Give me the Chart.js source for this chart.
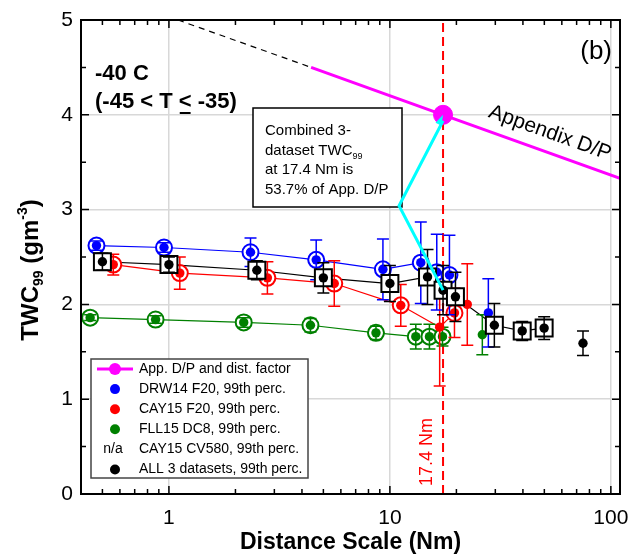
<!DOCTYPE html>
<html>
<head>
<meta charset="utf-8">
<script src="https://cdn.jsdelivr.net/npm/chart.js@4"></script>
<style>
  html, body { margin: 0; padding: 0; background: #fff; }
</style>
</head>
<body>
<canvas id="twc" width="634" height="558"></canvas>
<script>
// DRW14 F20 (blue): circled points joined by a line, then loose points
const drwX = [0.47, 0.95, 2.34, 4.64, 9.3, 13.8, 16.3, 18.6];
const drwY = [2.62, 2.60, 2.55, 2.47, 2.37, 2.44, 2.34, 2.31];
const drwErr = [0.05, 0.05, 0.15, 0.21, 0.32, 0.43, 0.40, 0.42];
const drwTailX = [27.9];
const drwTailY = [1.91];
const drwTailErr = [0.36];

// CAY15 F20 (red)
const cayX = [0.56, 1.12, 2.79, 5.6, 11.2, 19.6];
const cayY = [2.42, 2.33, 2.28, 2.22, 1.99, 1.91];
const cayErr = [0.11, 0.17, 0.17, 0.24, 0.22, 0.26];
const cayTailX = [16.8, 22.4];
const cayTailY = [1.76, 2.0];
const cayTailErr = [0.62, 0.43];

// FLL15 DC8 (green)
const fllX = [0.44, 0.87, 2.18, 4.37, 8.65, 13.1, 15.1, 17.3];
const fllY = [1.86, 1.84, 1.81, 1.78, 1.70, 1.66, 1.66, 1.66];
const fllErr = [0.03, 0.04, 0.05, 0.07, 0.07, 0.13, 0.13, 0.10];
const fllTailX = [26.2];
const fllTailY = [1.68];
const fllTailErr = [0.21];

// all three datasets combined (black squares)
const allX = [0.5, 1, 2.5, 5, 10, 14.8, 17.4, 19.8, 29.7, 39.7, 49.9];
const allY = [2.45, 2.42, 2.36, 2.28, 2.22, 2.29, 2.15, 2.08, 1.78, 1.72, 1.75];
const allErr = [0.09, 0.08, 0.10, 0.16, 0.19, 0.29, 0.26, 0.26, 0.23, 0.10, 0.12];
const allTailX = [74.8];
const allTailY = [1.59];
const allTailErr = [0.13];

// Appendix D/P envelope with distance factor
const appDashX = [1.1, 4.4];
const appDashY = [5.0, 4.5];
const appX = [4.4, 17.4, 110];
const appY = [4.5, 4.0, 3.33];
const appDotX = [17.4];
const appDotY = [4.0];

// 17.4 Nm marker and the callout
const refX = 17.4;
const calloutX = [17.4, 11.0, 17.4];
const calloutY = [2.15, 3.04, 4.0];
const noteLines = ['Combined 3-', 'dataset TWC', 'at 17.4 Nm is', '53.7% of App. D/P'];

const xTicks = [1, 10, 100];
const xMinor = [0.5, 0.6, 0.7, 0.8, 0.9, 2, 3, 4, 5, 6, 7, 8, 9, 20, 30, 40, 50, 60, 70, 80, 90];
const yTicks = [0, 1, 2, 3, 4, 5];
const yMinor = [0.5, 1.5, 2.5, 3.5, 4.5];

const FONT = '"Liberation Sans", Arial, sans-serif';
const BLUE = '#0000ff', RED = '#ff0000', GREEN = '#008000', BLACK = '#000000';
const MAGENTA = '#ff00ff', CYAN = '#00ffff';

const pts = (xs, ys) => xs.map((v, i) => ({ x: v, y: ys[i] }));

function lineSet(xs, ys, color, order, width) {
  return { data: pts(xs, ys), showLine: true, borderColor: color, borderWidth: width || 1.2,
           pointRadius: 0, order: order };
}
function ringSet(xs, ys, color, order, style) {
  return { data: pts(xs, ys), showLine: false, borderColor: color, backgroundColor: '#fff',
           pointStyle: style || 'circle', pointRadius: style === 'rect' ? 12 : 8,
           pointBorderWidth: 2, order: order };
}
function dotSet(xs, ys, errs, color, order) {
  return { data: pts(xs, ys), showLine: false, borderColor: color, backgroundColor: color,
           pointRadius: 4.7, pointBorderWidth: 0, errors: errs, order: order };
}

// vertical error bars, painted just before the dataset that owns them
const errorBars = {
  id: 'errorBars',
  beforeDatasetDraw(chart, args) {
    const ds = chart.data.datasets[args.index];
    if (!ds.errors) return;
    const { ctx, scales: { x, y } } = chart;
    ctx.save();
    ctx.strokeStyle = ds.borderColor;
    ctx.lineWidth = 1.5;
    ctx.beginPath();
    ds.data.forEach((p, i) => {
      const px = x.getPixelForValue(p.x);
      const t = y.getPixelForValue(p.y + ds.errors[i]);
      const b = y.getPixelForValue(p.y - ds.errors[i]);
      ctx.moveTo(px, t); ctx.lineTo(px, b);
      ctx.moveTo(px - 6, t); ctx.lineTo(px + 6, t);
      ctx.moveTo(px - 6, b); ctx.lineTo(px + 6, b);
    });
    ctx.stroke();
    ctx.restore();
  }
};

// callout box under the data, cyan pointer over it
const callout = {
  id: 'callout',
  beforeDatasetsDraw(chart) {
    const { ctx } = chart;
    const l = 253, t = 108, w = 149, h = 99;
    ctx.save();
    ctx.fillStyle = '#fff';
    ctx.fillRect(l, t, w, h);
    ctx.strokeStyle = '#000';
    ctx.lineWidth = 1.5;
    ctx.strokeRect(l, t, w, h);
    ctx.fillStyle = '#000';
    ctx.textBaseline = 'alphabetic';
    noteLines.forEach((s, i) => {
      const by = t + 27 + i * 19.5;
      ctx.font = '15px ' + FONT;
      ctx.fillText(s, l + 12, by);
      if (i === 1) {
        const wdt = ctx.measureText(s).width;
        ctx.font = '9px ' + FONT;
        ctx.fillText('99', l + 12 + wdt, by + 4);
      }
    });
    ctx.restore();
  },
  afterDatasetsDraw(chart) {
    const { ctx, scales: { x, y } } = chart;
    const px = calloutX.map(v => x.getPixelForValue(v));
    const py = calloutY.map(v => y.getPixelForValue(v));
    ctx.save();
    ctx.strokeStyle = CYAN;
    ctx.fillStyle = CYAN;
    ctx.lineWidth = 3;
    ctx.beginPath();
    ctx.moveTo(px[0], py[0]);
    ctx.lineTo(px[1], py[1]);
    ctx.lineTo(px[2], py[2] + 6);
    ctx.stroke();
    // arrow head into the App. D/P point
    const ang = Math.atan2(py[2] - py[1], px[2] - px[1]);
    ctx.beginPath();
    ctx.moveTo(px[2], py[2]);
    ctx.lineTo(px[2] - 11 * Math.cos(ang - 0.3), py[2] - 11 * Math.sin(ang - 0.3));
    ctx.lineTo(px[2] - 11 * Math.cos(ang + 0.3), py[2] - 11 * Math.sin(ang + 0.3));
    ctx.closePath();
    ctx.fill();
    ctx.restore();
  }
};

// inward ticks on all four sides, box frame, texts and legend
const decor = {
  id: 'decor',
  afterDraw(chart) {
    const { ctx, chartArea: a, scales: { x, y } } = chart;
    ctx.save();

    ctx.strokeStyle = '#000';
    ctx.lineWidth = 1.5;
    ctx.beginPath();
    xTicks.concat(xMinor).forEach(v => {
      const px = x.getPixelForValue(v);
      if (px <= a.left || px >= a.right) return;
      const len = xTicks.includes(v) ? 8 : 5;
      ctx.moveTo(px, a.bottom); ctx.lineTo(px, a.bottom - len);
      ctx.moveTo(px, a.top); ctx.lineTo(px, a.top + len);
    });
    yTicks.concat(yMinor).forEach(v => {
      const py = y.getPixelForValue(v);
      const len = yTicks.includes(v) ? 8 : 5;
      ctx.moveTo(a.left, py); ctx.lineTo(a.left + len, py);
      ctx.moveTo(a.right, py); ctx.lineTo(a.right - len, py);
    });
    ctx.stroke();
    ctx.lineWidth = 2;
    ctx.strokeRect(a.left, a.top, a.right - a.left, a.bottom - a.top);

    ctx.fillStyle = '#000';
    ctx.textBaseline = 'alphabetic';

    // panel tag and temperature range
    ctx.font = '26px ' + FONT;
    ctx.textAlign = 'right';
    ctx.fillText('(b)', a.right - 8, 59);
    ctx.textAlign = 'left';
    ctx.font = 'bold 22px ' + FONT;
    ctx.fillText('-40 C', 95, 80);
    const head = '(-45 < T ';
    ctx.fillText(head, 95, 108);
    let cx = 95 + ctx.measureText(head).width;
    ctx.fillText('<', cx, 108);
    const lw = ctx.measureText('<').width;
    ctx.fillRect(cx + 1, 112, lw - 2, 2);
    ctx.fillText(' -35)', cx + lw, 108);

    // envelope label along the magenta line
    const p0x = x.getPixelForValue(appX[1]), p0y = y.getPixelForValue(appY[1]);
    const p1x = x.getPixelForValue(appX[2]), p1y = y.getPixelForValue(appY[2]);
    const ang = Math.atan2(p1y - p0y, p1x - p0x);
    ctx.save();
    ctx.translate(550, 133);
    ctx.rotate(ang);
    ctx.font = '21px ' + FONT;
    ctx.textAlign = 'center';
    ctx.textBaseline = 'middle';
    ctx.fillText('Appendix D/P', 0, 0);
    ctx.restore();

    // 17.4 Nm label beside the dashed line
    ctx.save();
    ctx.translate(x.getPixelForValue(refX) - 16, 452);
    ctx.rotate(-Math.PI / 2);
    ctx.fillStyle = RED;
    ctx.font = '18px ' + FONT;
    ctx.textAlign = 'center';
    ctx.textBaseline = 'middle';
    ctx.fillText('17.4 Nm', 0, 0);
    ctx.restore();

    // axis titles
    ctx.font = 'bold 23px ' + FONT;
    ctx.textAlign = 'center';
    ctx.fillText('Distance Scale (Nm)', (a.left + a.right) / 2, 549);

    ctx.save();
    ctx.translate(38, 270);
    ctx.rotate(-Math.PI / 2);
    const parts = [
      ['TWC', 'bold 24px ', 0], ['99', 'bold 14px ', 5], [' (gm', 'bold 24px ', 0],
      ['-3', 'bold 14px ', -11], [')', 'bold 24px ', 0]
    ];
    let total = 0;
    parts.forEach(p => { ctx.font = p[1] + FONT; total += ctx.measureText(p[0]).width; });
    let tx = -total / 2;
    ctx.textAlign = 'left';
    parts.forEach(p => {
      ctx.font = p[1] + FONT;
      ctx.fillText(p[0], tx, p[2]);
      tx += ctx.measureText(p[0]).width;
    });
    ctx.restore();

    // legend
    const L = 91, T = 359, W = 217, H = 119;
    ctx.fillStyle = '#fff';
    ctx.fillRect(L, T, W, H);
    ctx.strokeStyle = '#444';
    ctx.lineWidth = 1.5;
    ctx.strokeRect(L, T, W, H);
    const rows = [
      ['App. D/P and dist. factor', MAGENTA, 'line'],
      ['DRW14 F20, 99th perc.', BLUE, 'dot'],
      ['CAY15 F20, 99th perc.', RED, 'dot'],
      ['FLL15 DC8, 99th perc.', GREEN, 'dot'],
      ['CAY15 CV580, 99th perc.', BLACK, 'na'],
      ['ALL 3 datasets, 99th perc.', BLACK, 'dot']
    ];
    ctx.font = '14px ' + FONT;
    ctx.textBaseline = 'middle';
    rows.forEach((r, i) => {
      const ry = T + 10 + i * 20.1;
      if (r[2] === 'line') {
        ctx.strokeStyle = r[1];
        ctx.lineWidth = 3;
        ctx.beginPath();
        ctx.moveTo(97, ry); ctx.lineTo(133, ry);
        ctx.stroke();
        ctx.fillStyle = r[1];
        ctx.beginPath(); ctx.arc(115, ry, 6, 0, Math.PI * 2); ctx.fill();
      } else if (r[2] === 'dot') {
        ctx.fillStyle = r[1];
        ctx.beginPath(); ctx.arc(115, ry, 5, 0, Math.PI * 2); ctx.fill();
      } else {
        ctx.fillStyle = '#000';
        ctx.textAlign = 'center';
        ctx.fillText('n/a', 113, ry);
      }
      ctx.fillStyle = '#000';
      ctx.textAlign = 'left';
      ctx.fillText(r[0], 139, ry);
    });

    ctx.restore();
  }
};

new Chart(document.getElementById('twc'), {
  type: 'scatter',
  data: {
    datasets: [
      // 17.4 Nm reference line
      { data: [{ x: refX, y: 0 }, { x: refX, y: 5 }], showLine: true, borderColor: RED,
        borderWidth: 2, borderDash: [9, 5], pointRadius: 0, order: 90 },
      { data: pts(appDashX, appDashY), showLine: true, borderColor: BLACK, borderWidth: 1.2,
        borderDash: [6, 5], pointRadius: 0, order: 80 },
      lineSet(appX, appY, MAGENTA, 80, 3),

      lineSet(fllX, fllY, GREEN, 70),
      lineSet(cayX.slice(0, 5).concat([cayTailX[0], cayX[5]]),
              cayY.slice(0, 5).concat([cayTailY[0], cayY[5]]), RED, 70),
      lineSet(drwX, drwY, BLUE, 70),
      lineSet(allX, allY, BLACK, 70),

      dotSet(fllX, fllY, fllErr, GREEN, 40),
      ringSet(fllX, fllY, GREEN, 41),
      dotSet(fllTailX, fllTailY, fllTailErr, GREEN, 40),

      dotSet(cayX, cayY, cayErr, RED, 30),
      ringSet(cayX, cayY, RED, 31),
      dotSet(cayTailX, cayTailY, cayTailErr, RED, 30),

      dotSet(drwX, drwY, drwErr, BLUE, 20),
      ringSet(drwX, drwY, BLUE, 21),
      dotSet(drwTailX, drwTailY, drwTailErr, BLUE, 20),

      dotSet(allX, allY, allErr, BLACK, 10),
      ringSet(allX, allY, BLACK, 11, 'rect'),
      dotSet(allTailX, allTailY, allTailErr, BLACK, 10),

      { data: pts(appDotX, appDotY), showLine: false, backgroundColor: MAGENTA, borderColor: MAGENTA,
        pointRadius: 9.5, order: 5 }
    ]
  },
  options: {
    responsive: false,
    animation: false,
    events: [],
    devicePixelRatio: 1,
    layout: { padding: { top: 20, right: 11, left: 0, bottom: 0 } },
    plugins: { legend: { display: false }, tooltip: { enabled: false } },
    scales: {
      x: {
        type: 'logarithmic', min: 0.4, max: 110,
        afterBuildTicks: s => { s.ticks = xTicks.map(v => ({ value: v })); },
        afterFit: s => { s.height = 64; s.paddingLeft = 0; s.paddingRight = 0; },
        grid: { color: '#d8d8d8', lineWidth: 1.5, drawTicks: false },
        border: { display: false },
        ticks: { callback: v => String(v), color: '#000', padding: 12, maxRotation: 0,
                 font: { family: FONT, size: 21 } }
      },
      y: {
        min: 0, max: 5,
        afterBuildTicks: s => { s.ticks = yTicks.map(v => ({ value: v })); },
        afterFit: s => { s.width = 81; s.paddingTop = 0; s.paddingBottom = 0; },
        grid: { color: '#d8d8d8', lineWidth: 1.5, drawTicks: false },
        border: { display: false },
        ticks: { color: '#000', padding: 8, font: { family: FONT, size: 21 } }
      }
    }
  },
  plugins: [errorBars, callout, decor]
});
</script>
</body>
</html>
